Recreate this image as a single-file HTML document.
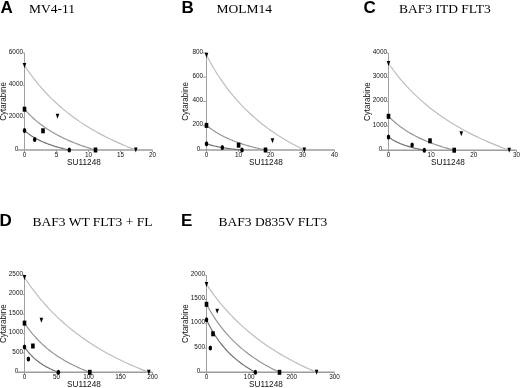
<!DOCTYPE html>
<html><head><meta charset="utf-8"><style>
html,body{margin:0;padding:0;background:#fff;width:520px;height:388px;overflow:hidden}
svg{display:block;will-change:transform}
.ax{stroke:#a0a0a0;stroke-width:1;fill:none}
.axx{stroke:#9c9c9c;stroke-width:1.6;fill:none}
.tk{font-family:"Liberation Sans",sans-serif;font-size:6.4px;fill:#111}
.lb{font-family:"Liberation Sans",sans-serif;font-size:8px;fill:#111}
.pl{font-family:"Liberation Sans",sans-serif;font-size:17px;font-weight:bold;fill:#000}
.tt{font-family:"Liberation Serif",serif;font-size:13.5px;fill:#000}
.c1{stroke:#bebebe;stroke-width:1.2;fill:none}
.c2{stroke:#969696;stroke-width:1.2;fill:none}
.c3{stroke:#727272;stroke-width:1.2;fill:none}
.m{fill:#000}
</style></head><body>
<svg width="520" height="388" viewBox="0 0 520 388">
<rect width="520" height="388" fill="#fff"/>
<line x1="18.00" y1="150.0" x2="152.50" y2="150.0" class="axx"/>
<line x1="24.5" y1="52.9" x2="24.5" y2="152.0" class="ax"/>
<text x="18.20" y="150.60" class="tk" text-anchor="end">0</text>
<line x1="22.90" y1="117.63" x2="24.5" y2="117.63" class="ax"/>
<text x="23.00" y="118.33" class="tk" text-anchor="end">2000</text>
<line x1="22.90" y1="85.27" x2="24.5" y2="85.27" class="ax"/>
<text x="23.00" y="85.97" class="tk" text-anchor="end">4000</text>
<line x1="22.90" y1="52.90" x2="24.5" y2="52.90" class="ax"/>
<text x="23.00" y="53.60" class="tk" text-anchor="end">6000</text>
<line x1="24.50" y1="150.0" x2="24.50" y2="152.0" class="ax"/>
<text x="24.50" y="156.90" class="tk" text-anchor="middle">0</text>
<line x1="56.50" y1="150.0" x2="56.50" y2="152.0" class="ax"/>
<text x="56.50" y="156.90" class="tk" text-anchor="middle">5</text>
<line x1="88.50" y1="150.0" x2="88.50" y2="152.0" class="ax"/>
<text x="88.50" y="156.90" class="tk" text-anchor="middle">10</text>
<line x1="120.50" y1="150.0" x2="120.50" y2="152.0" class="ax"/>
<text x="120.50" y="156.90" class="tk" text-anchor="middle">15</text>
<line x1="152.50" y1="150.0" x2="152.50" y2="152.0" class="ax"/>
<text x="152.50" y="156.90" class="tk" text-anchor="middle">20</text>
<text transform="translate(84.00,165.10) scale(1,1.12)" class="lb" style="font-size:8.25px" text-anchor="middle">SU11248</text>
<text transform="translate(6.20,101.45) rotate(-90) scale(1,1.15)" class="lb" text-anchor="middle">Cytarabine</text>
<path d="M24.50,65.60 L27.28,69.72 L30.07,73.64 L32.85,77.38 L35.63,80.95 L38.41,84.36 L41.20,87.62 L43.98,90.74 L46.76,93.73 L49.54,96.60 L52.33,99.36 L55.11,102.01 L57.89,104.55 L60.67,107.00 L63.45,109.36 L66.24,111.64 L69.02,113.83 L71.80,115.94 L74.59,117.99 L77.37,119.96 L80.15,121.87 L82.93,123.71 L85.72,125.50 L88.50,127.23 L91.28,128.90 L94.06,130.52 L96.85,132.10 L99.63,133.62 L102.41,135.11 L105.19,136.54 L107.98,137.94 L110.76,139.30 L113.54,140.62 L116.32,141.91 L119.11,143.16 L121.89,144.37 L124.67,145.56 L127.45,146.71 L130.24,147.84 L133.02,148.93 L135.80,150.00" class="c1"/>
<path d="M24.50,109.20 L26.27,111.19 L28.05,113.09 L29.82,114.89 L31.60,116.62 L33.38,118.27 L35.15,119.84 L36.92,121.35 L38.70,122.80 L40.48,124.19 L42.25,125.52 L44.03,126.80 L45.80,128.03 L47.58,129.22 L49.35,130.36 L51.12,131.45 L52.90,132.51 L54.67,133.54 L56.45,134.52 L58.23,135.48 L60.00,136.40 L61.77,137.29 L63.55,138.15 L65.32,138.99 L67.10,139.80 L68.88,140.58 L70.65,141.35 L72.43,142.08 L74.20,142.80 L75.97,143.50 L77.75,144.17 L79.53,144.83 L81.30,145.47 L83.07,146.09 L84.85,146.69 L86.62,147.28 L88.40,147.85 L90.17,148.41 L91.95,148.95 L93.72,149.48 L95.50,150.00" class="c2"/>
<path d="M24.50,130.60 L25.62,131.55 L26.74,132.45 L27.86,133.31 L28.98,134.13 L30.10,134.91 L31.22,135.66 L32.34,136.38 L33.46,137.07 L34.58,137.73 L35.70,138.36 L36.82,138.97 L37.94,139.55 L39.06,140.12 L40.18,140.66 L41.30,141.18 L42.42,141.69 L43.54,142.17 L44.66,142.64 L45.78,143.09 L46.90,143.53 L48.02,143.96 L49.14,144.37 L50.26,144.77 L51.38,145.15 L52.50,145.52 L53.62,145.88 L54.74,146.24 L55.86,146.58 L56.98,146.91 L58.10,147.23 L59.22,147.54 L60.34,147.84 L61.46,148.14 L62.58,148.43 L63.70,148.71 L64.82,148.98 L65.94,149.24 L67.06,149.50 L68.18,149.75 L69.30,150.00" class="c3"/>
<path d="M22.70,63.10 L26.30,63.10 L24.50,68.10Z" class="m"/>
<path d="M55.70,113.80 L59.30,113.80 L57.50,118.80Z" class="m"/>
<path d="M134.00,147.50 L137.60,147.50 L135.80,152.50Z" class="m"/>
<rect x="22.70" y="106.70" width="3.6" height="5" class="m"/>
<rect x="41.20" y="128.30" width="3.6" height="5" class="m"/>
<rect x="93.70" y="147.50" width="3.6" height="5" class="m"/>
<ellipse cx="24.50" cy="130.60" rx="1.75" ry="2.5" class="m"/>
<ellipse cx="34.70" cy="139.50" rx="1.75" ry="2.5" class="m"/>
<ellipse cx="69.30" cy="150.00" rx="1.75" ry="2.5" class="m"/>
<text transform="translate(0.6,13.200000000000001) scale(1.0,1.0)" class="pl">A</text>
<text transform="translate(29,12.9) scale(1,1.0)" class="tt">MV4-11</text>
<line x1="200.00" y1="150.0" x2="334.50" y2="150.0" class="axx"/>
<line x1="206.5" y1="52.9" x2="206.5" y2="152.0" class="ax"/>
<text x="200.20" y="150.60" class="tk" text-anchor="end">0</text>
<line x1="202.90" y1="125.72" x2="206.5" y2="125.72" class="ax"/>
<text x="203.10" y="126.42" class="tk" text-anchor="end">200</text>
<line x1="202.90" y1="101.45" x2="206.5" y2="101.45" class="ax"/>
<text x="203.10" y="102.15" class="tk" text-anchor="end">400</text>
<line x1="202.90" y1="77.17" x2="206.5" y2="77.17" class="ax"/>
<text x="203.10" y="77.88" class="tk" text-anchor="end">600</text>
<line x1="202.90" y1="52.90" x2="206.5" y2="52.90" class="ax"/>
<text x="203.10" y="53.60" class="tk" text-anchor="end">800</text>
<line x1="206.50" y1="150.0" x2="206.50" y2="152.0" class="ax"/>
<text x="206.50" y="156.90" class="tk" text-anchor="middle">0</text>
<line x1="238.50" y1="150.0" x2="238.50" y2="152.0" class="ax"/>
<text x="238.50" y="156.90" class="tk" text-anchor="middle">10</text>
<line x1="270.50" y1="150.0" x2="270.50" y2="152.0" class="ax"/>
<text x="270.50" y="156.90" class="tk" text-anchor="middle">20</text>
<line x1="302.50" y1="150.0" x2="302.50" y2="152.0" class="ax"/>
<text x="302.50" y="156.90" class="tk" text-anchor="middle">30</text>
<line x1="334.50" y1="150.0" x2="334.50" y2="152.0" class="ax"/>
<text x="334.50" y="156.90" class="tk" text-anchor="middle">40</text>
<text transform="translate(266.00,165.10) scale(1,1.12)" class="lb" style="font-size:8.25px" text-anchor="middle">SU11248</text>
<text transform="translate(188.20,101.45) rotate(-90) scale(1,1.15)" class="lb" text-anchor="middle">Cytarabine</text>
<path d="M206.50,55.20 L208.94,59.82 L211.39,64.23 L213.84,68.43 L216.28,72.44 L218.72,76.27 L221.17,79.93 L223.62,83.44 L226.06,86.80 L228.50,90.02 L230.95,93.12 L233.40,96.09 L235.84,98.95 L238.28,101.71 L240.73,104.36 L243.18,106.91 L245.62,109.37 L248.06,111.75 L250.51,114.04 L252.96,116.26 L255.40,118.40 L257.85,120.47 L260.29,122.48 L262.74,124.42 L265.18,126.30 L267.62,128.12 L270.07,129.89 L272.51,131.61 L274.96,133.27 L277.40,134.89 L279.85,136.46 L282.30,137.98 L284.74,139.47 L287.19,140.91 L289.63,142.31 L292.08,143.68 L294.52,145.01 L296.97,146.31 L299.41,147.57 L301.86,148.80 L304.30,150.00" class="c1"/>
<path d="M206.50,125.40 L207.97,126.60 L209.45,127.74 L210.93,128.83 L212.40,129.87 L213.88,130.87 L215.35,131.82 L216.82,132.73 L218.30,133.60 L219.78,134.44 L221.25,135.24 L222.72,136.01 L224.20,136.75 L225.68,137.47 L227.15,138.16 L228.62,138.82 L230.10,139.46 L231.57,140.07 L233.05,140.67 L234.53,141.24 L236.00,141.80 L237.47,142.34 L238.95,142.86 L240.43,143.36 L241.90,143.85 L243.38,144.32 L244.85,144.78 L246.32,145.23 L247.80,145.66 L249.28,146.08 L250.75,146.49 L252.22,146.88 L253.70,147.27 L255.18,147.64 L256.65,148.01 L258.12,148.36 L259.60,148.71 L261.07,149.04 L262.55,149.37 L264.02,149.69 L265.50,150.00" class="c2"/>
<path d="M206.50,143.70 L207.39,144.01 L208.28,144.30 L209.16,144.58 L210.05,144.85 L210.94,145.10 L211.82,145.34 L212.71,145.58 L213.60,145.80 L214.49,146.01 L215.38,146.22 L216.26,146.42 L217.15,146.61 L218.04,146.79 L218.93,146.97 L219.81,147.14 L220.70,147.30 L221.59,147.46 L222.47,147.61 L223.36,147.76 L224.25,147.90 L225.14,148.04 L226.03,148.17 L226.91,148.30 L227.80,148.42 L228.69,148.55 L229.57,148.66 L230.46,148.78 L231.35,148.89 L232.24,149.00 L233.12,149.10 L234.01,149.20 L234.90,149.30 L235.79,149.40 L236.68,149.49 L237.56,149.58 L238.45,149.67 L239.34,149.75 L240.22,149.84 L241.11,149.92 L242.00,150.00" class="c3"/>
<path d="M204.70,52.70 L208.30,52.70 L206.50,57.70Z" class="m"/>
<path d="M270.70,138.20 L274.30,138.20 L272.50,143.20Z" class="m"/>
<path d="M302.50,147.50 L306.10,147.50 L304.30,152.50Z" class="m"/>
<rect x="204.70" y="122.90" width="3.6" height="5" class="m"/>
<rect x="236.80" y="142.70" width="3.6" height="5" class="m"/>
<rect x="263.70" y="147.50" width="3.6" height="5" class="m"/>
<ellipse cx="206.50" cy="143.70" rx="1.75" ry="2.5" class="m"/>
<ellipse cx="222.30" cy="147.50" rx="1.75" ry="2.5" class="m"/>
<ellipse cx="242.00" cy="150.00" rx="1.75" ry="2.5" class="m"/>
<text transform="translate(181.4,13.200000000000001) scale(1.0,1.0)" class="pl">B</text>
<text transform="translate(216.6,12.9) scale(1,1.0)" class="tt">MOLM14</text>
<line x1="382.00" y1="150.2" x2="516.50" y2="150.2" class="axx"/>
<line x1="388.5" y1="53.1" x2="388.5" y2="152.2" class="ax"/>
<text x="382.20" y="150.80" class="tk" text-anchor="end">0</text>
<line x1="386.90" y1="125.92" x2="388.5" y2="125.92" class="ax"/>
<text x="387.00" y="126.62" class="tk" text-anchor="end">1000</text>
<line x1="386.90" y1="101.65" x2="388.5" y2="101.65" class="ax"/>
<text x="387.00" y="102.35" class="tk" text-anchor="end">2000</text>
<line x1="386.90" y1="77.38" x2="388.5" y2="77.38" class="ax"/>
<text x="387.00" y="78.08" class="tk" text-anchor="end">3000</text>
<line x1="386.90" y1="53.10" x2="388.5" y2="53.10" class="ax"/>
<text x="387.00" y="53.80" class="tk" text-anchor="end">4000</text>
<line x1="388.50" y1="150.2" x2="388.50" y2="152.2" class="ax"/>
<text x="388.50" y="157.10" class="tk" text-anchor="middle">0</text>
<line x1="431.17" y1="150.2" x2="431.17" y2="152.2" class="ax"/>
<text x="431.17" y="157.10" class="tk" text-anchor="middle">10</text>
<line x1="473.83" y1="150.2" x2="473.83" y2="152.2" class="ax"/>
<text x="473.83" y="157.10" class="tk" text-anchor="middle">20</text>
<line x1="516.50" y1="150.2" x2="516.50" y2="152.2" class="ax"/>
<text x="516.50" y="157.10" class="tk" text-anchor="middle">30</text>
<text transform="translate(448.00,165.30) scale(1,1.12)" class="lb" style="font-size:8.25px" text-anchor="middle">SU11248</text>
<text transform="translate(370.20,101.65) rotate(-90) scale(1,1.15)" class="lb" text-anchor="middle">Cytarabine</text>
<path d="M388.50,63.50 L391.52,67.73 L394.54,71.76 L397.55,75.60 L400.57,79.26 L403.59,82.77 L406.61,86.12 L409.62,89.33 L412.64,92.40 L415.66,95.35 L418.68,98.18 L421.69,100.90 L424.71,103.52 L427.73,106.03 L430.75,108.46 L433.76,110.79 L436.78,113.04 L439.80,115.22 L442.81,117.31 L445.83,119.34 L448.85,121.30 L451.87,123.20 L454.88,125.03 L457.90,126.80 L460.92,128.52 L463.94,130.19 L466.95,131.81 L469.97,133.38 L472.99,134.90 L476.01,136.38 L479.02,137.81 L482.04,139.21 L485.06,140.57 L488.08,141.89 L491.09,143.17 L494.11,144.42 L497.13,145.64 L500.15,146.82 L503.16,147.98 L506.18,149.10 L509.20,150.20" class="c1"/>
<path d="M388.50,116.30 L390.14,117.95 L391.79,119.53 L393.43,121.03 L395.07,122.46 L396.71,123.83 L398.36,125.14 L400.00,126.40 L401.64,127.60 L403.28,128.75 L404.93,129.86 L406.57,130.92 L408.21,131.95 L409.85,132.93 L411.50,133.88 L413.14,134.79 L414.78,135.67 L416.42,136.52 L418.06,137.34 L419.71,138.13 L421.35,138.90 L422.99,139.64 L424.63,140.36 L426.28,141.05 L427.92,141.72 L429.56,142.38 L431.20,143.01 L432.85,143.62 L434.49,144.22 L436.13,144.80 L437.77,145.36 L439.42,145.90 L441.06,146.43 L442.70,146.95 L444.34,147.45 L445.99,147.94 L447.63,148.42 L449.27,148.88 L450.91,149.33 L452.56,149.77 L454.20,150.20" class="c2"/>
<path d="M388.50,137.00 L389.39,137.64 L390.29,138.26 L391.19,138.84 L392.08,139.40 L392.98,139.93 L393.87,140.44 L394.76,140.93 L395.66,141.40 L396.56,141.85 L397.45,142.28 L398.35,142.69 L399.24,143.09 L400.13,143.48 L401.03,143.84 L401.93,144.20 L402.82,144.54 L403.72,144.87 L404.61,145.19 L405.50,145.50 L406.40,145.80 L407.30,146.09 L408.19,146.37 L409.08,146.64 L409.98,146.90 L410.88,147.15 L411.77,147.40 L412.67,147.64 L413.56,147.87 L414.45,148.10 L415.35,148.31 L416.25,148.53 L417.14,148.73 L418.04,148.93 L418.93,149.13 L419.82,149.32 L420.72,149.51 L421.62,149.69 L422.51,149.86 L423.41,150.03 L424.30,150.20" class="c3"/>
<path d="M386.70,61.00 L390.30,61.00 L388.50,66.00Z" class="m"/>
<path d="M459.50,131.20 L463.10,131.20 L461.30,136.20Z" class="m"/>
<path d="M507.40,147.70 L511.00,147.70 L509.20,152.70Z" class="m"/>
<rect x="386.70" y="113.80" width="3.6" height="5" class="m"/>
<rect x="428.20" y="138.30" width="3.6" height="5" class="m"/>
<rect x="452.40" y="147.70" width="3.6" height="5" class="m"/>
<ellipse cx="388.50" cy="137.00" rx="1.75" ry="2.5" class="m"/>
<ellipse cx="412.10" cy="145.00" rx="1.75" ry="2.5" class="m"/>
<ellipse cx="424.30" cy="150.20" rx="1.75" ry="2.5" class="m"/>
<text transform="translate(363.6,13.200000000000001) scale(1.0,1.0)" class="pl">C</text>
<text transform="translate(399,12.9) scale(1,1.0)" class="tt">BAF3 ITD FLT3</text>
<line x1="18.00" y1="372.3" x2="152.50" y2="372.3" class="axx"/>
<line x1="24.5" y1="275.2" x2="24.5" y2="374.3" class="ax"/>
<text x="18.20" y="372.90" class="tk" text-anchor="end">0</text>
<line x1="22.90" y1="352.88" x2="24.5" y2="352.88" class="ax"/>
<text x="23.00" y="353.58" class="tk" text-anchor="end">500</text>
<line x1="22.90" y1="333.46" x2="24.5" y2="333.46" class="ax"/>
<text x="23.00" y="334.16" class="tk" text-anchor="end">1000</text>
<line x1="22.90" y1="314.04" x2="24.5" y2="314.04" class="ax"/>
<text x="23.00" y="314.74" class="tk" text-anchor="end">1500</text>
<line x1="22.90" y1="294.62" x2="24.5" y2="294.62" class="ax"/>
<text x="23.00" y="295.32" class="tk" text-anchor="end">2000</text>
<line x1="22.90" y1="275.20" x2="24.5" y2="275.20" class="ax"/>
<text x="23.00" y="275.90" class="tk" text-anchor="end">2500</text>
<line x1="24.50" y1="372.3" x2="24.50" y2="374.3" class="ax"/>
<text x="24.50" y="379.20" class="tk" text-anchor="middle">0</text>
<line x1="56.50" y1="372.3" x2="56.50" y2="374.3" class="ax"/>
<text x="56.50" y="379.20" class="tk" text-anchor="middle">50</text>
<line x1="88.50" y1="372.3" x2="88.50" y2="374.3" class="ax"/>
<text x="88.50" y="379.20" class="tk" text-anchor="middle">100</text>
<line x1="120.50" y1="372.3" x2="120.50" y2="374.3" class="ax"/>
<text x="120.50" y="379.20" class="tk" text-anchor="middle">150</text>
<line x1="152.50" y1="372.3" x2="152.50" y2="374.3" class="ax"/>
<text x="152.50" y="379.20" class="tk" text-anchor="middle">200</text>
<text transform="translate(84.00,386.50) scale(1,1.12)" class="lb" style="font-size:8.25px" text-anchor="middle">SU11248</text>
<text transform="translate(6.20,323.75) rotate(-90) scale(1,1.15)" class="lb" text-anchor="middle">Cytarabine</text>
<path d="M24.50,277.50 L27.61,282.12 L30.71,286.53 L33.82,290.73 L36.93,294.74 L40.04,298.57 L43.14,302.23 L46.25,305.74 L49.36,309.10 L52.47,312.32 L55.58,315.42 L58.68,318.39 L61.79,321.25 L64.90,324.01 L68.00,326.66 L71.11,329.21 L74.22,331.67 L77.33,334.05 L80.44,336.34 L83.54,338.56 L86.65,340.70 L89.76,342.77 L92.87,344.78 L95.97,346.72 L99.08,348.60 L102.19,350.42 L105.30,352.19 L108.40,353.91 L111.51,355.57 L114.62,357.19 L117.73,358.76 L120.83,360.28 L123.94,361.77 L127.05,363.21 L130.16,364.61 L133.26,365.98 L136.37,367.31 L139.48,368.61 L142.59,369.87 L145.69,371.10 L148.80,372.30" class="c1"/>
<path d="M24.50,323.10 L26.13,325.50 L27.77,327.79 L29.40,329.97 L31.03,332.05 L32.66,334.03 L34.30,335.93 L35.93,337.76 L37.56,339.50 L39.19,341.17 L40.83,342.78 L42.46,344.32 L44.09,345.81 L45.72,347.24 L47.35,348.61 L48.99,349.94 L50.62,351.21 L52.25,352.45 L53.88,353.64 L55.52,354.79 L57.15,355.90 L58.78,356.98 L60.41,358.02 L62.05,359.02 L63.68,360.00 L65.31,360.95 L66.94,361.86 L68.58,362.75 L70.21,363.62 L71.84,364.46 L73.47,365.27 L75.11,366.06 L76.74,366.83 L78.37,367.58 L80.00,368.31 L81.64,369.02 L83.27,369.71 L84.90,370.38 L86.53,371.04 L88.17,371.68 L89.80,372.30" class="c2"/>
<path d="M24.50,346.90 L25.35,348.14 L26.20,349.32 L27.04,350.44 L27.89,351.52 L28.74,352.54 L29.59,353.53 L30.43,354.47 L31.28,355.37 L32.13,356.23 L32.98,357.06 L33.82,357.86 L34.67,358.62 L35.52,359.36 L36.36,360.07 L37.21,360.75 L38.06,361.41 L38.91,362.05 L39.75,362.67 L40.60,363.26 L41.45,363.83 L42.30,364.39 L43.14,364.93 L43.99,365.45 L44.84,365.95 L45.69,366.44 L46.53,366.91 L47.38,367.37 L48.23,367.82 L49.08,368.25 L49.92,368.67 L50.77,369.08 L51.62,369.48 L52.47,369.86 L53.31,370.24 L54.16,370.61 L55.01,370.96 L55.86,371.31 L56.70,371.65 L57.55,371.98 L58.40,372.30" class="c3"/>
<path d="M22.70,275.00 L26.30,275.00 L24.50,280.00Z" class="m"/>
<path d="M39.60,317.80 L43.20,317.80 L41.40,322.80Z" class="m"/>
<path d="M147.00,369.80 L150.60,369.80 L148.80,374.80Z" class="m"/>
<rect x="22.70" y="320.60" width="3.6" height="5" class="m"/>
<rect x="31.10" y="343.50" width="3.6" height="5" class="m"/>
<rect x="88.00" y="369.80" width="3.6" height="5" class="m"/>
<ellipse cx="24.50" cy="346.90" rx="1.75" ry="2.5" class="m"/>
<ellipse cx="28.40" cy="359.00" rx="1.75" ry="2.5" class="m"/>
<ellipse cx="58.40" cy="372.30" rx="1.75" ry="2.5" class="m"/>
<text transform="translate(-0.4,225.7) scale(1.0,1.0)" class="pl">D</text>
<text transform="translate(32.5,226.2) scale(1,1.0)" class="tt">BAF3 WT FLT3 + FL</text>
<line x1="200.00" y1="372.3" x2="334.50" y2="372.3" class="axx"/>
<line x1="206.5" y1="275.2" x2="206.5" y2="374.3" class="ax"/>
<text x="200.20" y="372.90" class="tk" text-anchor="end">0</text>
<line x1="204.90" y1="348.02" x2="206.5" y2="348.02" class="ax"/>
<text x="205.00" y="348.72" class="tk" text-anchor="end">500</text>
<line x1="204.90" y1="323.75" x2="206.5" y2="323.75" class="ax"/>
<text x="205.00" y="324.45" class="tk" text-anchor="end">1000</text>
<line x1="204.90" y1="299.48" x2="206.5" y2="299.48" class="ax"/>
<text x="205.00" y="300.18" class="tk" text-anchor="end">1500</text>
<line x1="204.90" y1="275.20" x2="206.5" y2="275.20" class="ax"/>
<text x="205.00" y="275.90" class="tk" text-anchor="end">2000</text>
<line x1="206.50" y1="372.3" x2="206.50" y2="374.3" class="ax"/>
<text x="206.50" y="379.20" class="tk" text-anchor="middle">0</text>
<line x1="249.17" y1="372.3" x2="249.17" y2="374.3" class="ax"/>
<text x="249.17" y="379.20" class="tk" text-anchor="middle">100</text>
<line x1="291.83" y1="372.3" x2="291.83" y2="374.3" class="ax"/>
<text x="291.83" y="379.20" class="tk" text-anchor="middle">200</text>
<line x1="334.50" y1="372.3" x2="334.50" y2="374.3" class="ax"/>
<text x="334.50" y="379.20" class="tk" text-anchor="middle">300</text>
<text transform="translate(266.00,386.50) scale(1,1.12)" class="lb" style="font-size:8.25px" text-anchor="middle">SU11248</text>
<text transform="translate(188.20,323.75) rotate(-90) scale(1,1.15)" class="lb" text-anchor="middle">Cytarabine</text>
<path d="M206.50,284.40 L209.25,288.44 L212.00,292.31 L214.76,296.03 L217.51,299.59 L220.26,303.01 L223.02,306.30 L225.77,309.46 L228.52,312.50 L231.27,315.44 L234.03,318.26 L236.78,320.99 L239.53,323.62 L242.28,326.16 L245.03,328.62 L247.79,330.99 L250.54,333.29 L253.29,335.52 L256.05,337.67 L258.80,339.76 L261.55,341.78 L264.30,343.74 L267.06,345.65 L269.81,347.49 L272.56,349.29 L275.31,351.03 L278.06,352.73 L280.82,354.38 L283.57,355.98 L286.32,357.54 L289.08,359.06 L291.83,360.54 L294.58,361.98 L297.33,363.39 L300.09,364.76 L302.84,366.09 L305.59,367.39 L308.34,368.67 L311.10,369.91 L313.85,371.12 L316.60,372.30" class="c1"/>
<path d="M206.50,304.30 L208.32,307.62 L210.15,310.78 L211.97,313.79 L213.80,316.66 L215.62,319.41 L217.45,322.04 L219.28,324.56 L221.10,326.97 L222.93,329.28 L224.75,331.50 L226.57,333.63 L228.40,335.68 L230.22,337.66 L232.05,339.56 L233.88,341.39 L235.70,343.16 L237.53,344.86 L239.35,346.51 L241.18,348.10 L243.00,349.63 L244.82,351.12 L246.65,352.56 L248.47,353.95 L250.30,355.30 L252.12,356.61 L253.95,357.88 L255.78,359.11 L257.60,360.30 L259.43,361.46 L261.25,362.59 L263.07,363.68 L264.90,364.74 L266.73,365.78 L268.55,366.79 L270.38,367.77 L272.20,368.72 L274.02,369.65 L275.85,370.56 L277.68,371.44 L279.50,372.30" class="c2"/>
<path d="M206.50,319.70 L207.72,322.27 L208.94,324.71 L210.17,327.04 L211.39,329.26 L212.61,331.39 L213.84,333.42 L215.06,335.37 L216.28,337.23 L217.50,339.02 L218.72,340.74 L219.95,342.39 L221.17,343.98 L222.39,345.50 L223.62,346.97 L224.84,348.39 L226.06,349.76 L227.28,351.08 L228.50,352.35 L229.73,353.58 L230.95,354.77 L232.17,355.92 L233.40,357.03 L234.62,358.11 L235.84,359.15 L237.06,360.16 L238.28,361.14 L239.51,362.09 L240.73,363.02 L241.95,363.91 L243.18,364.79 L244.40,365.63 L245.62,366.46 L246.84,367.26 L248.06,368.04 L249.29,368.79 L250.51,369.53 L251.73,370.25 L252.96,370.95 L254.18,371.63 L255.40,372.30" class="c3"/>
<path d="M204.70,281.90 L208.30,281.90 L206.50,286.90Z" class="m"/>
<path d="M215.40,308.80 L219.00,308.80 L217.20,313.80Z" class="m"/>
<path d="M314.80,369.80 L318.40,369.80 L316.60,374.80Z" class="m"/>
<rect x="204.70" y="301.80" width="3.6" height="5" class="m"/>
<rect x="211.20" y="331.30" width="3.6" height="5" class="m"/>
<rect x="277.70" y="369.80" width="3.6" height="5" class="m"/>
<ellipse cx="206.50" cy="319.70" rx="1.75" ry="2.5" class="m"/>
<ellipse cx="210.30" cy="348.00" rx="1.75" ry="2.5" class="m"/>
<ellipse cx="255.40" cy="372.30" rx="1.75" ry="2.5" class="m"/>
<text transform="translate(180.9,225.7) scale(1.0,1.0)" class="pl">E</text>
<text transform="translate(218.5,226.2) scale(1,1.0)" class="tt">BAF3 D835V FLT3</text>
</svg>
</body></html>
